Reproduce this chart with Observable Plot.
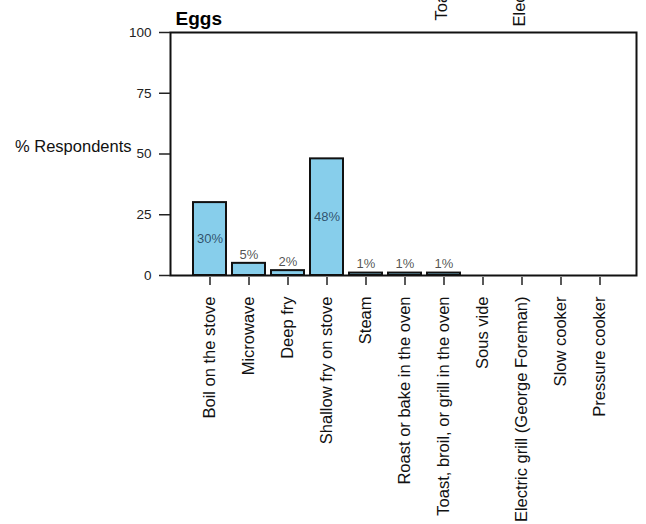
<!DOCTYPE html>
<html><head><meta charset="utf-8">
<script src="https://cdn.jsdelivr.net/npm/d3@7"></script>
<script src="https://cdn.jsdelivr.net/npm/@observablehq/plot@0.6"></script>
<style>body{margin:0;background:#fff;}</style>
</head><body><div id="chart"></div>
<script>
const title = "Eggs";
const yLabel = "% Respondents";
const methods = ["Boil on the stove", "Microwave", "Deep fry", "Shallow fry on stove", "Steam",
  "Roast or bake in the oven", "Toast, broil, or grill in the oven", "Sous vide",
  "Electric grill (George Foreman)", "Slow cooker", "Pressure cooker"];
const percents = [30, 5, 2, 48, 1, 1, 1, 0, 0, 0, 0];
const yTicks = [0, 25, 50, 75, 100];
// labels of a panel above, cut off by the top edge
const clippedTop1 = ["Toast, broil, or grill in the oven"];
const clippedTop2 = ["Electric grill (George Foreman)"];

const data = methods.map((m, i) => ({method: m, pct: percents[i]}));
const font = "'Liberation Sans', Arial, Helvetica, sans-serif";

const chart = Plot.plot({
  width: 646, height: 524,
  marginTop: 32, marginLeft: 170, marginRight: 10, marginBottom: 249,
  style: {fontFamily: font, background: "#fff", overflow: "hidden"},
  x: {domain: methods, paddingInner: 0.16, paddingOuter: 0.51, align: 0.54},
  y: {domain: [0, 100]},
  marks: [
    Plot.barY(data, {x: "method", y: "pct", fill: "#87CEEB", stroke: "#111", strokeWidth: 2}),
    Plot.frame({stroke: "#111", strokeWidth: 2}),
    Plot.axisY({ticks: yTicks, tickSize: 11, tickPadding: 8, fontSize: 13.5, label: null,
      stroke: "#222", strokeWidth: 1.5, fill: "#222"}),
    Plot.axisX({tickRotate: -90, tickSize: 8, tickPadding: 11, fontSize: 16.5, label: null,
      stroke: "#222", strokeWidth: 1.5, fill: "#111", dy: 2}),
    Plot.text(data.filter(d => d.pct >= 20), {x: "method", y: d => d.pct / 2, text: d => d.pct + "%",
      fontSize: 13, fill: "#1e3a55", fillOpacity: 0.85}),
    Plot.text(data.filter(d => d.pct > 0 && d.pct < 20), {x: "method", y: "pct", text: d => d.pct + "%",
      fontSize: 13, dy: -9, fill: "#333", fillOpacity: 0.85}),
    Plot.text([title], {frameAnchor: "top-left", textAnchor: "start", lineAnchor: "bottom",
      dx: 5, dy: -8, fontSize: 19, fontWeight: "bold", fill: "#000"}),
    Plot.text([yLabel], {frameAnchor: "left", textAnchor: "end", lineAnchor: "bottom",
      dx: -39, dy: -2.5, fontSize: 16.5, fill: "#111"}),
    Plot.text(clippedTop1, {x: d => d, text: d => d, frameAnchor: "top", rotate: -90,
      textAnchor: "start", dx: -9, dy: -12, fontSize: 16.5, fill: "#111"}),
    Plot.text(clippedTop2, {x: d => d, text: d => d, frameAnchor: "top", rotate: -90,
      textAnchor: "start", dx: -9, dy: -6, fontSize: 16.5, fill: "#111"})
  ]
});
document.getElementById("chart").appendChild(chart);
</script>
</body></html>
